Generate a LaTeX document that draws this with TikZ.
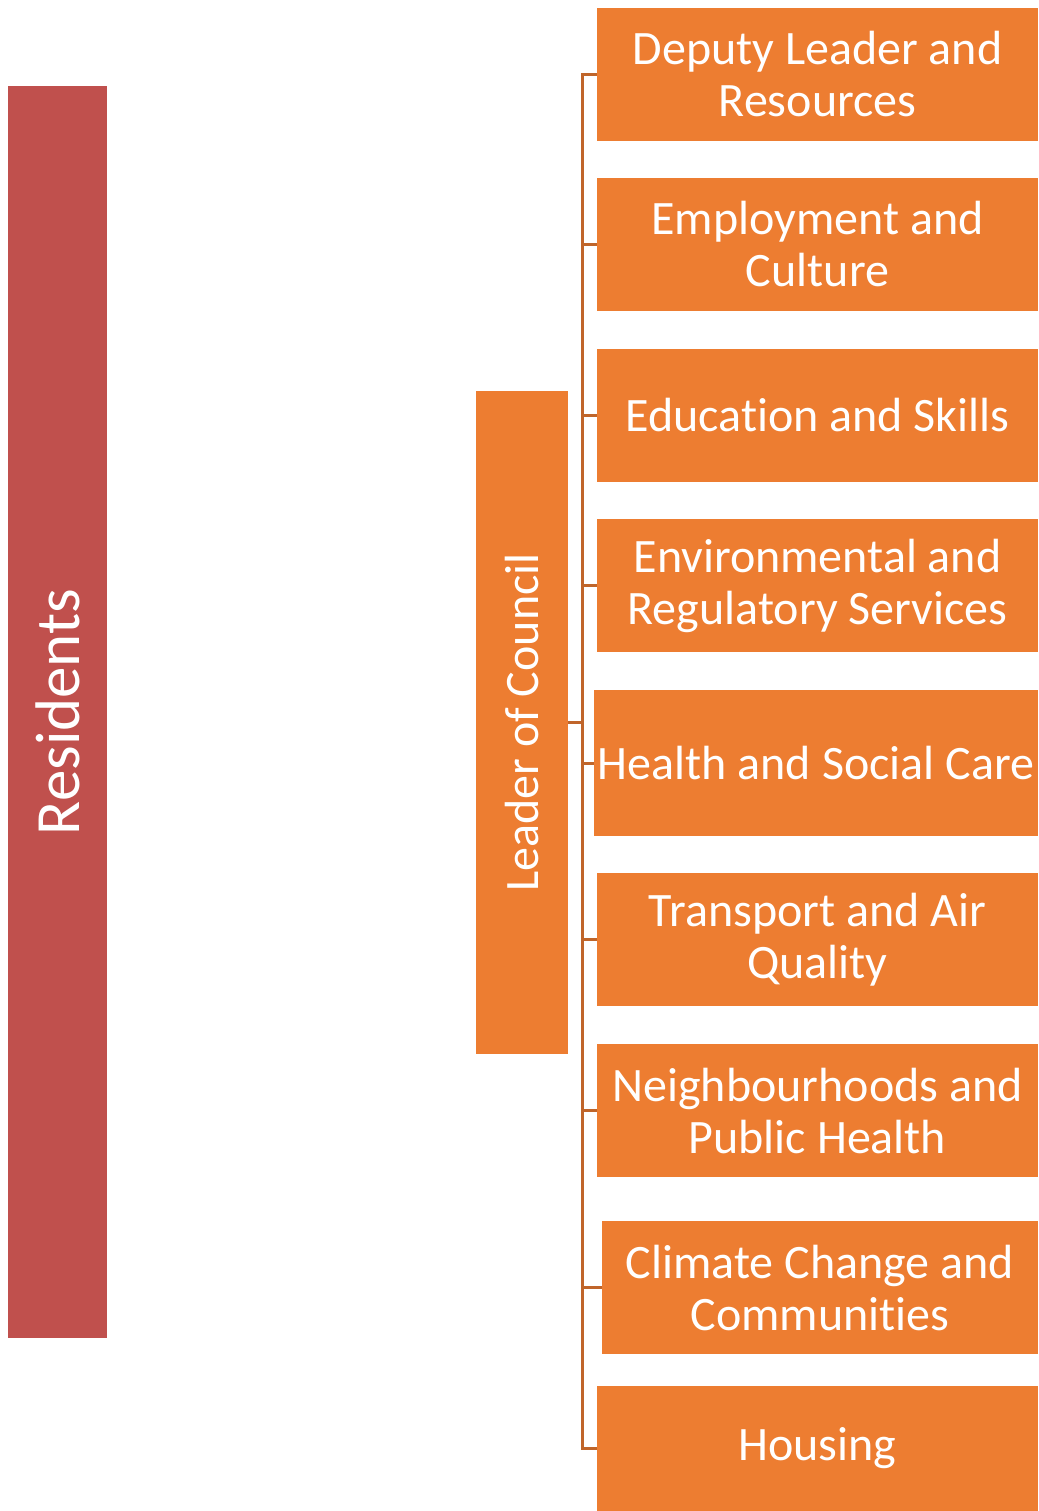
\documentclass[tikz,border=0pt]{standalone}
\usepackage{fontspec}
\setmainfont{Carlito}[Ligatures=NoCommon]
\definecolor{resred}{HTML}{C0504D}
\definecolor{orng}{HTML}{ED7D31}
\definecolor{lineor}{HTML}{C0652A}
\begin{document}
\begin{tikzpicture}[x=1pt,y=-1pt,
  box/.style={fill=orng,text=white,inner sep=0pt,outer sep=0pt,anchor=north west,
    align=center,font=\fontsize{48}{52}\selectfont},
  conn/.style={draw=lineor,line width=3pt}]
\useasboundingbox (0,0) rectangle (1038,1511);
\node[fill=resred,minimum width=99,minimum height=1252,inner sep=0pt,outer sep=0pt,anchor=north west] (res) at (8,86) {};
\node[text=white,rotate=90,font=\fontsize{63}{70}\selectfont] at (res.center) {Residents};
\node[fill=orng,minimum width=92,minimum height=663,inner sep=0pt,outer sep=0pt,anchor=north west] (lead) at (476,391) {};
\node[text=white,rotate=90,font=\fontsize{48}{52}\selectfont] at (lead.center) {Leader of Council};
\node[box,minimum width=441,minimum height=133] (b1) at (597,8) {Deputy Leader and\\Resources};
\node[box,minimum width=441,minimum height=133] (b2) at (597,178) {Employment and\\Culture};
\node[box,minimum width=441,minimum height=133] (b3) at (597,349) {Education and Skills};
\node[box,minimum width=441,minimum height=133] (b4) at (597,519) {Environmental and\\Regulatory Services};
\node[box,minimum width=444,minimum height=146] (b5) at (594,690) {Health and Social Care};
\node[box,minimum width=441,minimum height=133] (b6) at (597,873) {Transport and Air\\Quality};
\node[box,minimum width=441,minimum height=133] (b7) at (597,1044) {Neighbourhoods and\\Public Health};
\node[box,minimum width=436,minimum height=133] (b8) at (602,1221) {Climate Change and\\Communities};
\node[box,minimum width=441,minimum height=125] (b9) at (597,1386) {Housing};
\coordinate (j) at (582,722.5);
\foreach \b in {b1,b2,b3,b4,b5,b6,b7,b8,b9}{
  \draw[conn] (lead.east) -- (j) |- (\b.west);
}
\end{tikzpicture}
\end{document}
